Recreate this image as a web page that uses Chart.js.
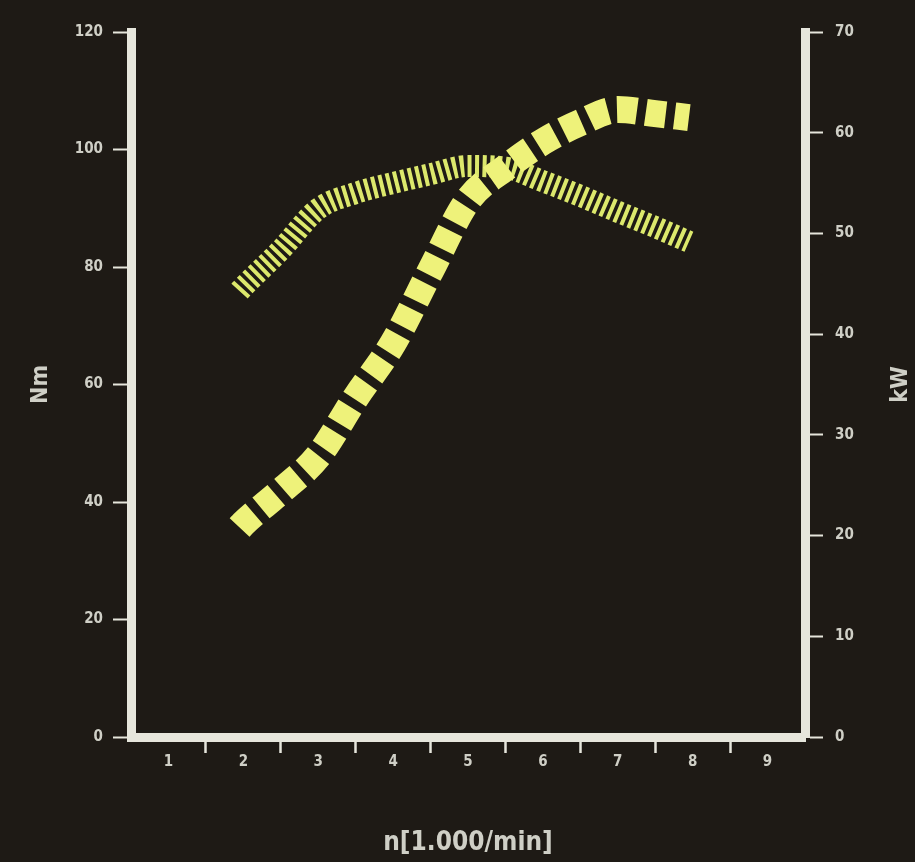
<!DOCTYPE html>
<html>
<head>
<meta charset="utf-8">
<script src="https://cdn.jsdelivr.net/npm/chart.js@4.4.1/dist/chart.umd.min.js"></script>
<style>
  html, body { margin: 0; padding: 0; background: #1e1a15; overflow: hidden; }
  canvas { display: block; }
</style>
</head>
<body>
<canvas id="c" width="915" height="862"></canvas>
<script>
// ---- data ----
const RPM        = [1.95, 2.0, 2.5, 3.0, 3.5, 4.0, 4.5, 5.0, 5.5, 6.0, 6.5, 7.0, 7.5, 7.95];
const TORQUE_NM  = [75.9, 76.6, 82.9, 89.9, 92.6, 94.3, 95.8, 97.2, 96.9, 94.6, 92.1, 89.4, 86.8, 84.3];
const POWER_KW   = [20.8, 21.2, 24.4, 27.9, 33.7, 39.1, 46.3, 53.3, 56.5, 59.1, 61.0, 62.3, 61.9, 61.5];

const X_LABELS   = [1, 2, 3, 4, 5, 6, 7, 8, 9];          // labelled positions
const X_MARKS    = [1.5, 2.5, 3.5, 4.5, 5.5, 6.5, 7.5, 8.5]; // tick marks between labels
const X_RANGE    = [0.5, 9.5];
const NM_RANGE   = [0, 120];
const NM_STEP    = 20;
const KW_RANGE   = [0, 70];
const KW_STEP    = 10;

const X_TITLE  = 'n[1.000/min]';
const Y1_TITLE = 'Nm';
const Y2_TITLE = 'kW';

// ---- styling ----
const AXIS_COLOR = '#e6e6dc';
const TEXT_COLOR = '#cfcfc6';
const TICK_FONT  = { family: '"DejaVu Sans Condensed", "DejaVu Sans", sans-serif', size: 15, weight: 'bold' };

const points = (ys) => RPM.map((x, i) => ({ x, y: ys[i] }));

const kwTitlePlugin = {
  id: 'kwTitle',
  afterDraw(chart) {
    const s = chart.scales.y2;
    const ctx = chart.ctx;
    ctx.save();
    ctx.translate(s.right - 14, (chart.chartArea.top + chart.chartArea.bottom) / 2);
    ctx.rotate(-Math.PI / 2);
    ctx.font = 'bold 23px "DejaVu Sans Condensed", "DejaVu Sans", sans-serif';
    ctx.fillStyle = TEXT_COLOR;
    ctx.textAlign = 'center';
    ctx.textBaseline = 'middle';
    ctx.fillText(Y2_TITLE, 0, 0);
    ctx.restore();
  }
};

new Chart(document.getElementById('c'), {
  type: 'line',
  data: {
    datasets: [
      {
        label: 'kW',
        data: points(POWER_KW),
        yAxisID: 'y2',
        borderColor: '#eef27a',
        borderWidth: 27,
        borderDash: [20, 9],
        borderCapStyle: 'butt',
        cubicInterpolationMode: 'monotone',
        pointRadius: 0,
        fill: false,
        order: 0
      },
      {
        label: 'Nm',
        data: points(TORQUE_NM),
        yAxisID: 'y',
        borderColor: '#dce86c',
        borderWidth: 22,
        borderDash: [4, 3.5],
        borderCapStyle: 'butt',
        cubicInterpolationMode: 'monotone',
        pointRadius: 0,
        fill: false,
        order: 1
      }
    ]
  },
  options: {
    responsive: false,
    animation: false,
    devicePixelRatio: 1,
    layout: { padding: { top: 32, left: 0, right: 0, bottom: 0 } },
    plugins: { legend: { display: false }, tooltip: { enabled: false } },
    scales: {
      x: {
        type: 'linear',
        position: 'bottom',
        min: X_RANGE[0],
        max: X_RANGE[1],
        afterBuildTicks: (scale) => {
          scale.ticks = X_LABELS.concat(X_MARKS).sort((a, b) => a - b).map(v => ({ value: v }));
        },
        afterFit: (scale) => { scale.height = 125; },
        border: { display: true, color: AXIS_COLOR, width: 9 },
        grid: {
          drawOnChartArea: false,
          drawTicks: true,
          tickLength: 16,
          tickWidth: 2.5,
          tickColor: (ctx) => (ctx.tick && Number.isInteger(ctx.tick.value)) ? 'rgba(0,0,0,0)' : AXIS_COLOR
        },
        ticks: {
          autoSkip: false,
          maxRotation: 0,
          minRotation: 0,
          padding: 0,
          color: TEXT_COLOR,
          font: TICK_FONT,
          callback: (v) => Number.isInteger(v) ? String(v) : ''
        },
        title: {
          display: true,
          text: X_TITLE,
          color: TEXT_COLOR,
          font: { family: '"DejaVu Sans Condensed", "DejaVu Sans", sans-serif', size: 26, weight: 'bold' },
          padding: { top: 0, bottom: 3 }
        }
      },
      y: {
        type: 'linear',
        position: 'left',
        min: NM_RANGE[0],
        max: NM_RANGE[1],
        afterFit: (scale) => { scale.width = 131; },
        border: { display: true, color: AXIS_COLOR, width: 9 },
        grid: { drawOnChartArea: false, drawTicks: true, tickLength: 18, tickWidth: 2, tickColor: AXIS_COLOR },
        ticks: { stepSize: NM_STEP, padding: 10, color: TEXT_COLOR, font: TICK_FONT },
        title: {
          display: true,
          text: Y1_TITLE,
          color: TEXT_COLOR,
          font: { family: '"DejaVu Sans Condensed", "DejaVu Sans", sans-serif', size: 23, weight: 'bold' },
          padding: { top: 27, bottom: 0 }
        }
      },
      y2: {
        type: 'linear',
        position: 'right',
        min: KW_RANGE[0],
        max: KW_RANGE[1],
        afterFit: (scale) => { scale.width = 110; },
        border: { display: true, color: AXIS_COLOR, width: 9 },
        grid: { drawOnChartArea: false, drawTicks: true, tickLength: 18, tickWidth: 2, tickColor: AXIS_COLOR },
        ticks: { stepSize: KW_STEP, padding: 12, color: TEXT_COLOR, font: TICK_FONT },
        title: { display: false }
      }
    }
  },
  plugins: [kwTitlePlugin]
});
</script>
</body>
</html>
